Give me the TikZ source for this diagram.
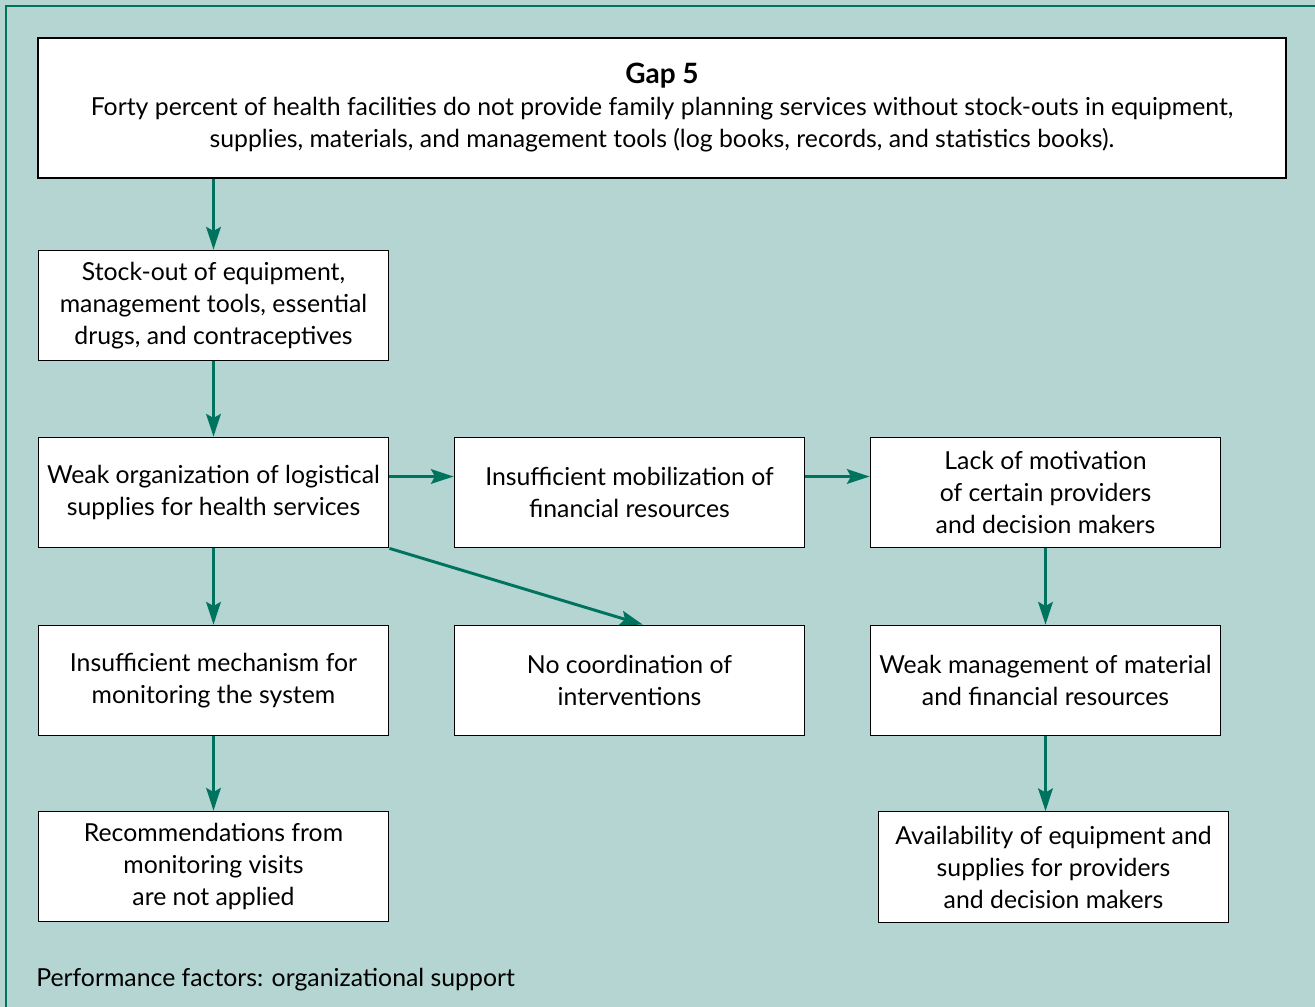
\documentclass[tikz,border=0pt]{standalone}
\usepackage{fontspec}
\setmainfont{Lato}
\usetikzlibrary{arrows.meta}
\definecolor{bgteal}{HTML}{B4D5D2}
\definecolor{darkteal}{HTML}{00735F}
\tikzset{
  box/.style={draw=black, line width=0.8pt, fill=white, align=center,
    minimum width=263pt, minimum height=83pt, inner sep=0pt,
    font=\fontsize{18.6}{24}\selectfont},
  arr/.style={draw=darkteal, line width=2.2pt, -{Stealth[length=17pt, width=11pt, inset=3pt]}}
}
\begin{document}
\begin{tikzpicture}[x=0.75pt, y=-0.75pt]
  \useasboundingbox (0,0) rectangle (1315,1007);
  \fill[bgteal] (0,0) rectangle (1315,1007);
  \draw[darkteal, line width=1.8pt] (6,1007) -- (6,6) -- (1315,6);
  %
  \node[box, minimum width=936pt, minimum height=105pt] (gap) at (662,108)
    {\textbf{\fontsize{21}{24}\selectfont Gap 5}\\
     Forty percent of health facilities do not provide family planning services without stock-outs in equipment,\\
     supplies, materials, and management tools (log books, records, and statistics books).};
  \node[box] (stock) at (213.5,305.5) {Stock-out of equipment,\\management tools, essential\\drugs, and contraceptives};
  \node[box] (weakorg) at (213.5,492.5) {Weak organization of logistical\\supplies for health services};
  \node[box] (finmob) at (629.5,492.5) {Insufficient mobilization of\\financial resources};
  \node[box] (motiv) at (1045.5,492.5) {Lack of motivation\\of certain providers\\and decision makers};
  \node[box] (monit) at (213.5,680.5) {Insufficient mechanism for\\monitoring the system};
  \node[box] (coord) at (629.5,680.5) {No coordination of\\interventions};
  \node[box] (weakmgmt) at (1045.5,680.5) {Weak management of material\\and financial resources};
  \node[box] (recom) at (213.5,866.5) {Recommendations from\\monitoring visits\\are not applied};
  \node[box] (avail) at (1053.5,867) {Availability of equipment and\\supplies for providers\\and decision makers};
  %
  \node[anchor=west, inner sep=0pt, font=\fontsize{18.6}{24}\selectfont] (footer) at (36,980)
    {Performance factors: organizational support};
  %
  \draw[arr] (stock.north |- gap.south) -- (stock.north);
  \draw[arr] (stock) -- (weakorg);
  \draw[arr] ([yshift=12pt]weakorg.east) -- ([yshift=12pt]finmob.west);
  \draw[arr] ([yshift=12pt]finmob.east) -- ([yshift=12pt]motiv.west);
  \draw[arr] (weakorg) -- (monit);
  \draw[arr] (weakorg.south east) -- ([xshift=10pt]coord.north);
  \draw[arr] (motiv) -- (weakmgmt);
  \draw[arr] (monit) -- (recom);
  \draw[arr] (weakmgmt.south) -- (weakmgmt.south |- avail.north);
\end{tikzpicture}
\end{document}
